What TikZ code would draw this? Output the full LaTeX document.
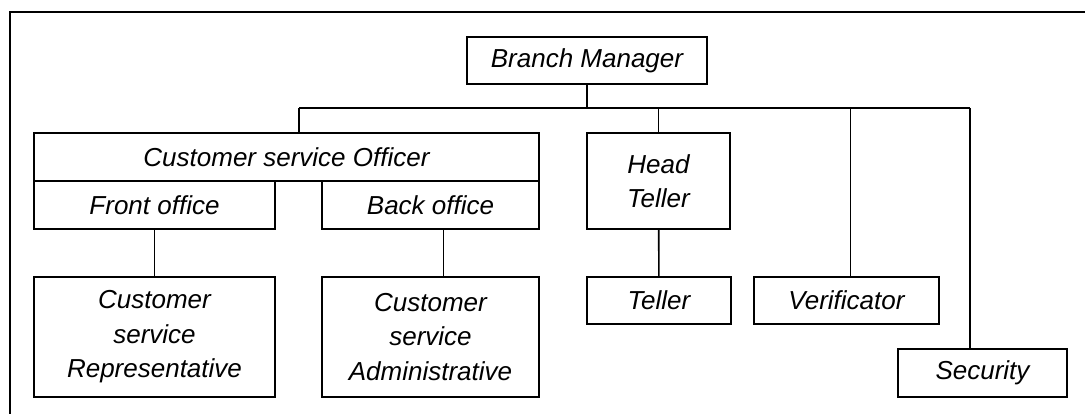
\documentclass[tikz,border=0pt]{standalone}
\usepackage{fontspec}
\setmainfont{Liberation Sans}
\tikzset{
    post/.style = {draw, rectangle, line width = 1.6pt, inner sep = 0pt,
                   align = center, font = \fontsize{26}{34.5}\selectfont\itshape},
    link/.style = {line width = 1.6pt}
}
\begin{document}
\begin{tikzpicture}[x = 1pt, y = -1pt]
    \useasboundingbox (0, 0) rectangle (1085, 414);
    % page frame, cut off at the right and bottom
    \draw[line width = 1.4pt] (10, 414) -- (10, 12) -- (1085, 12);

    % head of the branch
    \node[post, minimum width = 240, minimum height = 47] (manager) at (587, 60.5) {Branch Manager};

    % customer service
    \node[post, minimum width = 505, minimum height = 48] (officer) at (286.5, 157) {Customer service Officer};
    \node[post, minimum width = 241, minimum height = 48] (front) at (154.5, 205) {Front office};
    \node[post, minimum width = 217, minimum height = 48] (back) at (430.5, 205) {Back office};
    \node[post, minimum width = 241, minimum height = 120] (representative) at (154.5, 337)
        {Customer\\service\\Representative};
    \node[post, minimum width = 217, minimum height = 120] (administrative) at (430.5, 337)
        {Customer\\service\\Administrative};

    % teller line
    \node[post, minimum width = 143, minimum height = 96] (headteller) at (658.5, 181) {Head\\Teller};
    \node[post, minimum width = 144, minimum height = 47] (teller) at (659, 300.5) {Teller};

    % the rest
    \node[post, minimum width = 185, minimum height = 47] (verificator) at (846.5, 300.5) {Verificator};
    \node[post, minimum width = 169, minimum height = 48] (security) at (982.5, 373) {Security};

    % bus under the manager
    \coordinate (busL) at (299, 108);
    \coordinate (busR) at (970, 108);
    \draw[link] (manager) -- (manager |- busL);
    \draw[link] (busL) -- (busR);
    \draw[link] (busL) -- (busL |- officer.north);
    \draw[link] (headteller) -- (headteller |- busL);
    \draw[link] ([xshift = 4pt]verificator.north) -- ([xshift = 4pt]verificator.north |- busL);
    \draw[link] (busR) -- (busR |- security.north);

    % down the columns
    \draw[link] (front) -- (representative);
    \draw[link] ([xshift = 13pt]back.south) -- ([xshift = 13pt]administrative.north);
    \draw[link] (headteller) -- (teller);
\end{tikzpicture}
\end{document}
